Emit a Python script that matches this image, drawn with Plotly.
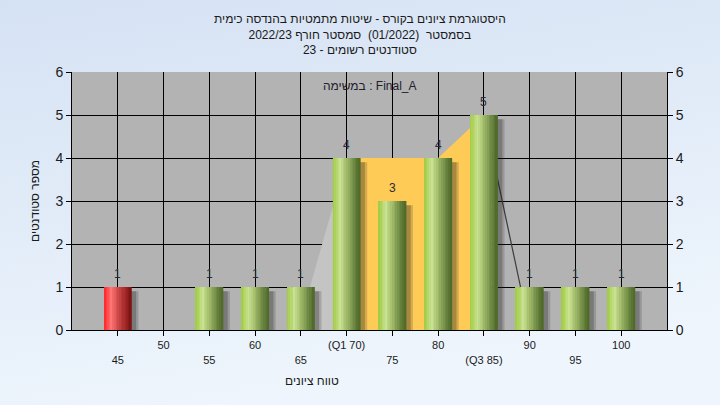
import base64
import plotly.graph_objects as go

# ---------------- data ----------------
grades = [45, 50, 55, 60, 65, 70, 75, 80, 85, 90, 95, 100]
counts = [1, 0, 1, 1, 1, 4, 3, 4, 5, 1, 1, 1]
tick_text_row = ["low", "high", "low", "high", "low", "high", "low", "high", "low", "high", "low", "high"]
tick_labels = ["45", "50", "55", "60", "65", "(Q1 70)", "75", "80", "(Q3 85)", "90", "95", "100"]
failed_grades = [45]

# interquartile shading
rise_x = [66, 70]
rise_y = [1, 4]
iqr_x = [70, 75, 80, 85]
iqr_y = [4, 4, 4, 5]
fall_x = [85, 89]
fall_y = [5, 1]

title_lines = [
    "היסטוגרמת ציונים בקורס - שיטות מתמטיות בהנדסה כימית",
    "בסמסטר  (01/2022)  סמסטר חורף 2022/23",
    "סטודנטים רשומים - 23",
]
x_title = "טווח ציונים"
y_title = "מספר סטודנטים"
note = "במשימה : Final_A"

FONT = "Liberation Sans, Arial, sans-serif"

# ---------------- styling helpers ----------------
def hex2rgb(h):
    h = h.lstrip("#")
    return tuple(int(h[i:i + 2], 16) for i in (0, 2, 4))

def interp(stops, t):
    for (p0, c0), (p1, c1) in zip(stops, stops[1:]):
        if p0 <= t <= p1:
            f = (t - p0) / (p1 - p0) if p1 > p0 else 0
            a, b = hex2rgb(c0), hex2rgb(c1)
            return "rgb(%d,%d,%d)" % tuple(round(a[k] + (b[k] - a[k]) * f) for k in range(3))
    return stops[-1][1]

green_stops = [(0, "#9fca3e"), (0.28, "#c8e292"), (0.5, "#a3bd6c"), (0.8, "#6a8640"), (1.0, "#4c6626")]
red_stops = [(0, "#ff2424"), (0.28, "#ff7474"), (0.5, "#d24c4c"), (0.8, "#a02626"), (1.0, "#761010")]

BAR_W = 3.0
N = 16

fig = go.Figure()

# shaded areas (main subplot, beneath the bars)
fig.add_trace(go.Scatter(x=rise_x, y=rise_y, mode="lines", fill="tozeroy",
                         line=dict(width=0, color="#c4c4c4"), fillcolor="#c4c4c4",
                         hoverinfo="skip", showlegend=False))
fig.add_trace(go.Scatter(x=iqr_x, y=iqr_y, mode="lines", fill="tozeroy",
                         line=dict(width=0, color="#fecb57"), fillcolor="#fecb57",
                         hoverinfo="skip", showlegend=False))
fig.add_trace(go.Scatter(x=fall_x, y=fall_y, mode="lines",
                         line=dict(width=1.2, color="#3c3c3c"),
                         hoverinfo="skip", showlegend=False))

# shadows (overlay subplot)
for k, (dx, a) in enumerate([(0.75, 0.18), (0.5, 0.25)]):
    fig.add_trace(go.Bar(x=grades, y=[c - 0.1 if c > 0 else 0 for c in counts],
                         width=BAR_W, offset=-BAR_W / 2 + dx,
                         marker=dict(color="rgba(30,30,30,%.2f)" % a, line=dict(width=0)),
                         xaxis="x2", yaxis="y2",
                         hoverinfo="skip", showlegend=False))

# cylinder-like bars made of vertical stripes
for i in range(N):
    t = (i + 0.5) / N
    cols = [interp(red_stops, t) if g in failed_grades else interp(green_stops, t) for g in grades]
    fig.add_trace(go.Bar(x=grades, y=counts, width=BAR_W / N + 0.03,
                         offset=-BAR_W / 2 + i * BAR_W / N,
                         marker=dict(color=cols, line=dict(width=0)),
                         xaxis="x2", yaxis="y2",
                         hoverinfo="skip", showlegend=False))

ticktext = [("%s" % l) if r == "high" else (" <br>%s" % l) for l, r in zip(tick_labels, tick_text_row)]

W, H = 720, 405
ML, MR, MT, MB = 72, 53, 72, 75
PW, PH = W - ML - MR, H - MT - MB

svg = ('<svg xmlns="http://www.w3.org/2000/svg" width="720" height="405" preserveAspectRatio="none">'
       '<defs><linearGradient id="g" x1="0" y1="0" x2="0.3" y2="1">'
       '<stop offset="0" stop-color="#d5e2f4"/><stop offset="1" stop-color="#eef5fc"/>'
       '</linearGradient></defs><rect width="720" height="405" fill="url(#g)"/></svg>')
uri = "data:image/svg+xml;base64," + base64.b64encode(svg.encode()).decode()

axis_common = dict(showline=True, linecolor="black", linewidth=1, ticks="outside",
                   ticklen=5, tickcolor="black", zeroline=False)

annotations = [
    dict(text="<br>".join(title_lines), xref="paper", yref="paper",
         x=(W / 2 - ML) / PW, y=1 + (MT - 10) / PH, xanchor="center", yanchor="top",
         showarrow=False, font=dict(size=12, color="#1a1a1a")),
    dict(text=note, xref="paper", yref="paper", x=0.5, y=1 - 14 / PH,
         xanchor="center", yanchor="middle", showarrow=False,
         font=dict(size=12, color="#22202e")),
    dict(text=x_title, xref="paper", yref="paper", x=(312 - ML) / PW, y=-51 / PH,
         xanchor="center", yanchor="middle", showarrow=False,
         font=dict(size=12, color="#1a1a1a")),
    dict(text=y_title, xref="paper", yref="paper", x=-(ML - 35) / PW, y=0.5,
         xanchor="center", yanchor="middle", textangle=-90, showarrow=False,
         font=dict(size=12, color="#1a1a1a")),
]
# value labels above bars
for g, c in zip(grades, counts):
    if c > 0:
        annotations.append(dict(text=str(c), x=g, y=c, xref="x2", yref="y2",
                                yanchor="bottom", yshift=4, showarrow=False,
                                font=dict(size=12, color="#2a2a3a")))

fig.update_layout(
    width=W, height=H,
    margin=dict(l=ML, r=MR, t=MT, b=MB),
    paper_bgcolor="#e2ecf8",
    plot_bgcolor="#b3b3b3",
    barmode="overlay",
    font=dict(family=FONT, color="#1a1a1a"),
    xaxis=dict(range=[40, 105], tickmode="array", tickvals=grades, ticktext=ticktext,
               tickfont=dict(size=11), showgrid=True, gridcolor="black", gridwidth=1,
               **axis_common),
    xaxis2=dict(range=[40, 105], overlaying="x", visible=False),
    yaxis=dict(range=[0, 6], dtick=1, tickfont=dict(size=14), showgrid=True,
               gridcolor="black", gridwidth=1, **axis_common),
    yaxis2=dict(range=[0, 6], dtick=1, overlaying="y", side="right", showgrid=False,
                tickfont=dict(size=14), anchor="x2", **axis_common),
    images=[dict(source=uri, xref="paper", yref="paper", x=-ML / PW, y=1 + MT / PH,
                 sizex=W / PW, sizey=H / PH, sizing="stretch", xanchor="left",
                 yanchor="top", layer="below")],
    shapes=[dict(type="rect", xref="paper", yref="paper", x0=0, x1=1, y0=0, y1=1,
                 fillcolor="#b3b3b3", line=dict(width=0), layer="below")],
    annotations=annotations,
)

fig.write_html("out.html", config={"displayModeBar": False},
               post_script="document.body.style.margin='0';")
